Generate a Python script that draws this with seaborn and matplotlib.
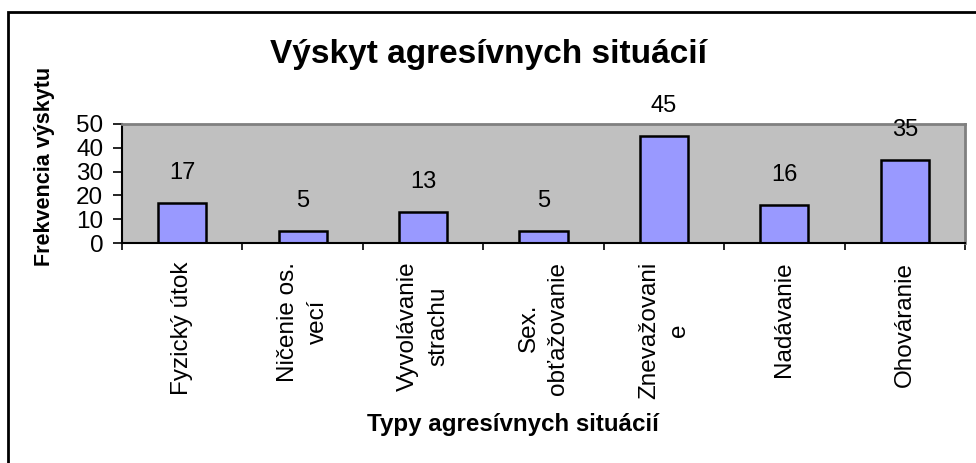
import matplotlib
matplotlib.use("Agg")
import matplotlib.pyplot as plt
import seaborn as sns
import pandas as pd
from matplotlib.patches import Rectangle

categories = ["Fyzický útok", "Ničenie os.\nvecí", "Vyvolávanie\nstrachu", "Sex.\nobťažovanie",
              "Znevažovani\ne", "Nadávanie", "Ohováranie"]
counts = [17, 5, 13, 5, 45, 16, 35]
y_ticks = [0, 10, 20, 30, 40, 50]

title = "Výskyt agresívnych situácií"
x_title = "Typy agresívnych situácií"
y_title = "Frekvencia výskytu"

sns.set_theme(style="white")
plt.rcParams["font.family"] = ["Liberation Sans", "DejaVu Sans"]
plt.rcParams["text.color"] = "black"
plt.rcParams["axes.labelcolor"] = "black"
plt.rcParams["xtick.color"] = "black"
plt.rcParams["ytick.color"] = "black"

W, H = 976, 463
fig = plt.figure(figsize=(W / 100, H / 100), dpi=100)
fig.patch.set_facecolor("white")

# outer chart frame (runs off the right and bottom edges)
fig.add_artist(Rectangle((7.5 / W, -0.05), 1.2, (H - 11.5) / H + 0.05,
                         transform=fig.transFigure, fill=False,
                         edgecolor="black", linewidth=2))

left, right, top, bottom = 122, 965, 124, 243
ax = fig.add_axes([left / W, (H - bottom) / H, (right - left) / W, (bottom - top) / H])
ax.set_facecolor("#C0C0C0")

df = pd.DataFrame({"cat": categories, "val": counts})
sns.barplot(data=df, x="cat", y="val", ax=ax, color="#9999FF", saturation=1,
            width=0.4, edgecolor="black", linewidth=1.8)

ax.set_xlim(-0.5, len(categories) - 0.5)
ax.set_ylim(0, 50)
ax.set_yticks(y_ticks)
ax.tick_params(axis="y", which="major", direction="out", length=6.5, width=1.2,
               color="black", labelcolor="black", labelsize=17.5, pad=7, left=True)

# category labels, read bottom-to-top, their ends hanging below the axis
ax.set_xticks(range(len(categories)))
ax.set_xticklabels(categories, rotation=90, fontsize=17.5, ha="center", va="top",
                   multialignment="center", linespacing=1.45, color="black")
ax.tick_params(axis="x", which="major", length=0, pad=13.5)
ax.set_xticks([i - 0.5 for i in range(len(categories) + 1)], minor=True)
ax.tick_params(axis="x", which="minor", direction="out", length=5, width=1.2,
               color="black", bottom=True)

for side in ("left", "bottom"):
    ax.spines[side].set_color("black")
    ax.spines[side].set_linewidth(1.5)
for side in ("top", "right"):
    ax.spines[side].set_color("#808080")
    ax.spines[side].set_linewidth(2)
    ax.spines[side].set_visible(True)

for cont in ax.containers:
    ax.bar_label(cont, labels=[str(v) for v in counts], padding=13.5,
                 fontsize=17, color="black")

ax.set_xlabel(x_title, fontsize=17.4, fontweight="bold", va="center", ha="center")
ax.set_ylabel(y_title, fontsize=15.5, fontweight="bold", va="center", ha="center")
ax.xaxis.set_label_coords((513 - left) / (right - left), -(424 - bottom) / (bottom - top))
ax.yaxis.set_label_coords(-(left - 45) / (right - left), (bottom - 166) / (bottom - top))

fig.text(488 / W, 1 - 54 / H, title, fontsize=24, fontweight="bold",
         ha="center", va="center", color="black")

fig.savefig("out.png", dpi=100)
